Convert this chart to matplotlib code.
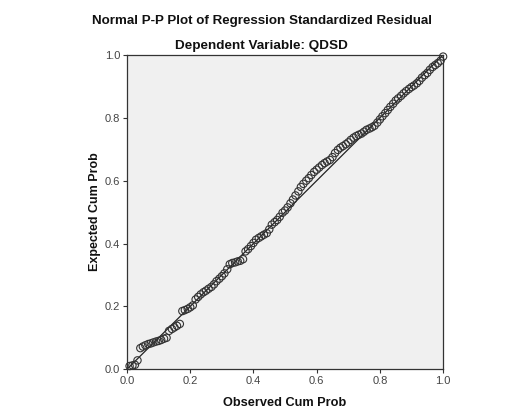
import matplotlib
matplotlib.use("Agg")
import matplotlib.pyplot as plt

plt.rcParams['font.family'] = ['Liberation Sans', 'DejaVu Sans']

title = "Normal P-P Plot of Regression Standardized Residual"
subtitle = "Dependent Variable: QDSD"
xlabel = "Observed Cum Prob"
ylabel = "Expected Cum Prob"
tick_values = [0.0, 0.2, 0.4, 0.6, 0.8, 1.0]
tick_labels = ["0.0", "0.2", "0.4", "0.6", "0.8", "1.0"]

observed = [0.008, 0.017, 0.025, 0.033, 0.042, 0.050, 0.058, 0.067, 0.075, 0.083,
            0.092, 0.100, 0.108, 0.117, 0.125, 0.133, 0.142, 0.150, 0.158, 0.167,
            0.175, 0.183, 0.192, 0.200, 0.208, 0.217, 0.225, 0.233, 0.242, 0.250,
            0.258, 0.267, 0.275, 0.283, 0.292, 0.300, 0.308, 0.317, 0.325, 0.333,
            0.342, 0.350, 0.358, 0.367, 0.375, 0.383, 0.392, 0.400, 0.408, 0.417,
            0.425, 0.433, 0.442, 0.450, 0.458, 0.467, 0.475, 0.483, 0.492, 0.500,
            0.508, 0.517, 0.525, 0.533, 0.542, 0.550, 0.558, 0.567, 0.575, 0.583,
            0.592, 0.600, 0.608, 0.617, 0.625, 0.633, 0.642, 0.650, 0.658, 0.667,
            0.675, 0.683, 0.692, 0.700, 0.708, 0.717, 0.725, 0.733, 0.742, 0.750,
            0.758, 0.767, 0.775, 0.783, 0.792, 0.800, 0.808, 0.817, 0.825, 0.833,
            0.842, 0.850, 0.858, 0.867, 0.875, 0.883, 0.892, 0.900, 0.908, 0.917,
            0.925, 0.933, 0.942, 0.950, 0.958, 0.967, 0.975, 0.983, 0.992, 1.000]

expected = [0.010, 0.012, 0.014, 0.028, 0.067, 0.072, 0.076, 0.080, 0.082, 0.085,
            0.088, 0.090, 0.093, 0.097, 0.100, 0.122, 0.128, 0.133, 0.138, 0.144,
            0.185, 0.188, 0.192, 0.197, 0.203, 0.222, 0.230, 0.238, 0.245, 0.250,
            0.256, 0.262, 0.270, 0.280, 0.288, 0.296, 0.305, 0.318, 0.334, 0.338,
            0.340, 0.343, 0.345, 0.350, 0.375, 0.382, 0.392, 0.402, 0.412, 0.418,
            0.423, 0.428, 0.433, 0.445, 0.460, 0.468, 0.475, 0.485, 0.498, 0.505,
            0.515, 0.528, 0.540, 0.553, 0.566, 0.580, 0.590, 0.600, 0.608, 0.618,
            0.628, 0.635, 0.642, 0.650, 0.656, 0.661, 0.666, 0.675, 0.688, 0.698,
            0.705, 0.710, 0.716, 0.722, 0.730, 0.737, 0.742, 0.746, 0.750, 0.756,
            0.762, 0.766, 0.770, 0.775, 0.785, 0.795, 0.805, 0.815, 0.825, 0.835,
            0.845, 0.855, 0.862, 0.870, 0.878, 0.885, 0.892, 0.898, 0.903, 0.910,
            0.918, 0.928, 0.936, 0.943, 0.953, 0.962, 0.968, 0.974, 0.982, 0.995]

fig = plt.figure(figsize=(5.25, 4.2), dpi=100)
fig.patch.set_facecolor('white')
ax = fig.add_axes([0.242, 0.121, 0.602, 0.748])
ax.set_facecolor('#F0F0F0')

ax.plot([0, 1], [0, 1], color='#222222', lw=0.9, zorder=2)
ax.scatter(observed, expected, s=28, facecolors='none', edgecolors='#333333',
           linewidths=0.8, zorder=3, clip_on=False)

ax.set_xlim(0, 1)
ax.set_ylim(0, 1)
ax.set_xticks(tick_values)
ax.set_xticklabels(tick_labels)
ax.set_yticks(tick_values)
ax.set_yticklabels(tick_labels)
ax.tick_params(axis='both', direction='out', length=3, width=0.8, colors='#333333',
               labelsize=8, labelcolor='#444444', pad=2)
for sp in ax.spines.values():
    sp.set_color('#333333')
    sp.set_linewidth(0.9)

ax.set_xlabel(xlabel, fontsize=9.2, fontweight='bold', labelpad=8, color='#111111')
ax.set_ylabel(ylabel, fontsize=9, fontweight='bold', labelpad=3, color='#111111')

fig.text(0.500, 0.951, title, ha='center', va='center', fontsize=9.6,
         fontweight='bold', color='#111111')
fig.text(0.498, 0.890, subtitle, ha='center', va='center', fontsize=9.7,
         fontweight='bold', color='#111111')

fig.savefig('out.png', dpi=100)
